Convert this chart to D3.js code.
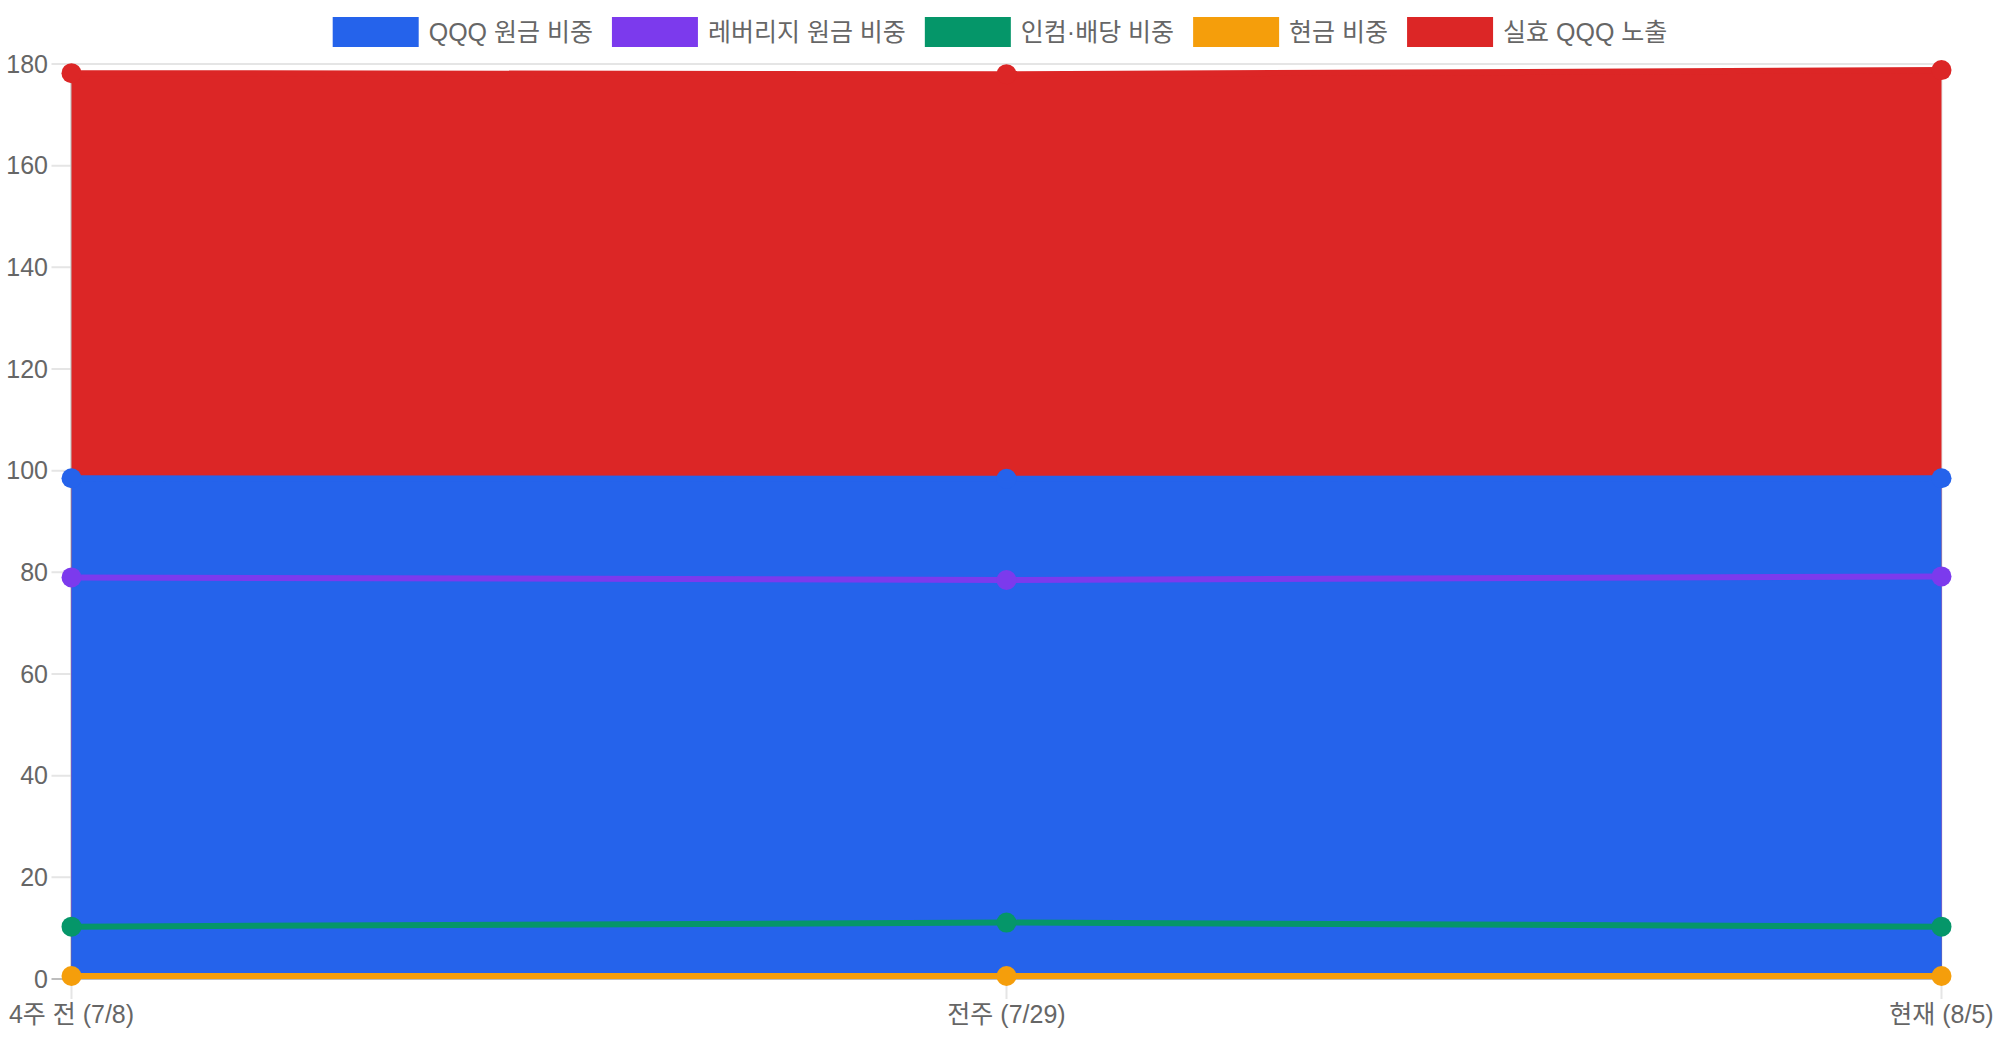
<!DOCTYPE html>
<html>
<head>
<meta charset="utf-8">
<script src="https://cdn.jsdelivr.net/npm/d3@7"></script>
<style>
  html, body { margin: 0; padding: 0; background: #fff; }
  svg text { font-family: "Liberation Sans", "Noto Sans CJK KR", sans-serif; fill: #666; }
</style>
</head>
<body>
<svg id="chart"></svg>
<script>
var categories = ["4주 전 (7/8)", "전주 (7/29)", "현재 (8/5)"];
var qqqPrincipal = [98.5, 98.4, 98.5];
var leveragePrincipal = [79.0, 78.5, 79.2];
var incomeDividend = [10.3, 11.1, 10.3];
var cashWeight = [0.6, 0.6, 0.6];
var effectiveExposure = [178.2, 178.0, 178.8];
var yTicks = [0, 20, 40, 60, 80, 100, 120, 140, 160, 180];

var seriesNames = ["QQQ 원금 비중", "레버리지 원금 비중", "인컴·배당 비중", "현금 비중", "실효 QQQ 노출"];
var seriesColors = ["#2563eb", "#7c3aed", "#059669", "#f59e0b", "#dc2626"];
var seriesValues = [qqqPrincipal, leveragePrincipal, incomeDividend, cashWeight, effectiveExposure];

var w = 2000, h = 1040;
var plotLeft = 71.5, plotRight = 1941.5, plotTop = 64, plotBottom = 979;
var fontSize = "25px";

var svg = d3.select("#chart").attr("width", w).attr("height", h);

var xScale = d3.scalePoint()
    .domain(categories)
    .range([plotLeft, plotRight]);

var yScale = d3.scaleLinear()
    .domain([0, 180])
    .range([plotBottom, plotTop]);

// gridlines
svg.append("g")
    .selectAll("line")
    .data(yTicks)
    .enter()
    .append("line")
    .attr("x1", plotLeft - 20)
    .attr("x2", plotRight)
    .attr("y1", function(d) { return yScale(d); })
    .attr("y2", function(d) { return yScale(d); })
    .attr("stroke", function(d) { return d === 0 ? "#bdbdbd" : "#e5e5e5"; })
    .attr("stroke-width", 2);

svg.append("g")
    .selectAll("line")
    .data(categories)
    .enter()
    .append("line")
    .attr("x1", function(d) { return xScale(d); })
    .attr("x2", function(d) { return xScale(d); })
    .attr("y1", plotTop)
    .attr("y2", plotBottom + 20)
    .attr("stroke", "#e5e5e5")
    .attr("stroke-width", 2);

svg.append("line")
    .attr("x1", plotLeft).attr("x2", plotLeft)
    .attr("y1", plotTop).attr("y2", plotBottom)
    .attr("stroke", "#bdbdbd")
    .attr("stroke-width", 2);

// tick labels
svg.append("g")
    .selectAll("text")
    .data(yTicks)
    .enter()
    .append("text")
    .attr("x", 48)
    .attr("y", function(d) { return yScale(d); })
    .attr("dy", "0.35em")
    .attr("text-anchor", "end")
    .style("font-size", fontSize)
    .text(function(d) { return d; });

svg.append("g")
    .selectAll("text")
    .data(categories)
    .enter()
    .append("text")
    .attr("x", function(d) { return xScale(d); })
    .attr("y", 1014)
    .attr("dy", "0.35em")
    .attr("text-anchor", "middle")
    .style("font-size", fontSize)
    .text(function(d) { return d; });

function points(vals) {
    return vals.map(function(v, i) { return [xScale(categories[i]), yScale(v)]; });
}

var area = d3.area()
    .x(function(d) { return d[0]; })
    .y0(yScale(0))
    .y1(function(d) { return d[1]; });

var line = d3.line();

// fills: last series at the bottom, first series on top
[4, 3, 2, 1, 0].forEach(function(s) {
    svg.append("path")
        .attr("d", area(points(seriesValues[s])))
        .attr("fill", seriesColors[s]);
});

// lines and points
[4, 3, 2, 1, 0].forEach(function(s) {
    var g = svg.append("g");
    g.append("path")
        .attr("d", line(points(seriesValues[s])))
        .attr("fill", "none")
        .attr("stroke", seriesColors[s])
        .attr("stroke-width", 6);
    g.selectAll("circle")
        .data(points(seriesValues[s]))
        .enter()
        .append("circle")
        .attr("cx", function(d) { return d[0]; })
        .attr("cy", function(d) { return d[1]; })
        .attr("r", 10)
        .attr("fill", seriesColors[s]);
});

// legend
var legend = svg.append("g");
var boxW = 86, boxH = 30, gapText = 10, gapItem = 19;
var items = legend.selectAll("g")
    .data(seriesNames)
    .enter()
    .append("g");
items.append("rect")
    .attr("width", boxW)
    .attr("height", boxH)
    .attr("y", 17)
    .attr("fill", function(d, i) { return seriesColors[i]; });
items.append("text")
    .attr("x", boxW + gapText)
    .attr("y", 32)
    .attr("dy", "0.35em")
    .style("font-size", fontSize)
    .text(function(d) { return d; });

var widths = [];
items.each(function() {
    widths.push(boxW + gapText + d3.select(this).select("text").node().getComputedTextLength());
});
var total = d3.sum(widths) + gapItem * (widths.length - 1);
var cx = (w - total) / 2;
items.attr("transform", function(d, i) {
    var x = cx;
    cx += widths[i] + gapItem;
    return "translate(" + x + ",0)";
});
</script>
</body>
</html>
